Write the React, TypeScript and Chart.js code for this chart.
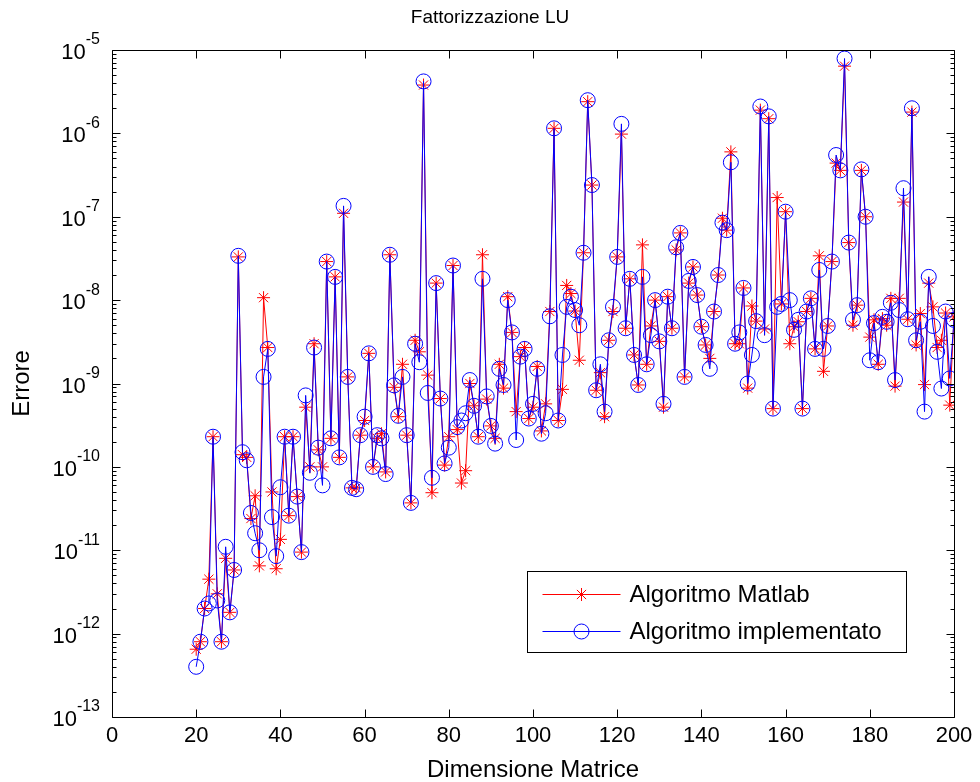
import React, { useEffect, useRef } from "react";
import { Chart, registerables } from "chart.js";

Chart.register(...registerables);

const DIMENSIONS = [
  20, 21, 22, 23, 24, 25, 26, 27, 28, 29,
  30, 31, 32, 33, 34, 35, 36, 37, 38, 39,
  40, 41, 42, 43, 44, 45, 46, 47, 48, 49,
  50, 51, 52, 53, 54, 55, 56, 57, 58, 59,
  60, 61, 62, 63, 64, 65, 66, 67, 68, 69,
  70, 71, 72, 73, 74, 75, 76, 77, 78, 79,
  80, 81, 82, 83, 84, 85, 86, 87, 88, 89,
  90, 91, 92, 93, 94, 95, 96, 97, 98, 99,
  100, 101, 102, 103, 104, 105, 106, 107, 108, 109,
  110, 111, 112, 113, 114, 115, 116, 117, 118, 119,
  120, 121, 122, 123, 124, 125, 126, 127, 128, 129,
  130, 131, 132, 133, 134, 135, 136, 137, 138, 139,
  140, 141, 142, 143, 144, 145, 146, 147, 148, 149,
  150, 151, 152, 153, 154, 155, 156, 157, 158, 159,
  160, 161, 162, 163, 164, 165, 166, 167, 168, 169,
  170, 171, 172, 173, 174, 175, 176, 177, 178, 179,
  180, 181, 182, 183, 184, 185, 186, 187, 188, 189,
  190, 191, 192, 193, 194, 195, 196, 197, 198, 199,
  200,
];

const ERR_MATLAB = [
  6.5e-13, 8e-13, 2e-12, 4.5e-12, 2.3e-10, 3e-12, 8e-13, 8e-12, 1.8e-12, 5.8e-12,
  3.3e-8, 1.4e-10, 1.3e-10, 2.4e-11, 4.5e-11, 6.5e-12, 1.07e-8, 2.7e-9, 5e-11, 6e-12,
  1.35e-11, 2.3e-10, 2.6e-11, 2.3e-10, 4.4e-11, 9.5e-12, 5.2e-10, 1e-10, 3e-9, 1.6e-10,
  1e-10, 2.9e-8, 2.2e-10, 1.9e-8, 1.3e-10, 1.1e-7, 1.2e-9, 5.6e-11, 5.6e-11, 2.4e-10,
  3.6e-10, 2.3e-9, 1e-10, 2.2e-10, 2.5e-10, 8.7e-11, 3.5e-8, 9e-10, 4e-10, 1.7e-9,
  2.4e-10, 3.7e-11, 3.3e-9, 2.4e-9, 3.8e-6, 1.26e-9, 4.9e-11, 1.6e-8, 6.6e-10, 1.05e-10,
  2.3e-10, 2.6e-8, 2.8e-10, 6.4e-11, 9e-11, 1e-9, 5.4e-10, 2.3e-10, 3.5e-8, 6.5e-10,
  3.1e-10, 2.2e-10, 1.7e-9, 8.8e-10, 1.1e-8, 4.1e-9, 4.6e-10, 2.1e-9, 2.7e-9, 3.8e-10,
  5.2e-10, 1.6e-9, 2.7e-10, 5.7e-10, 7.3e-9, 1.15e-6, 3.6e-10, 8.5e-10, 1.5e-8, 1.2e-8,
  7.4e-9, 1.9e-9, 3.7e-8, 2.4e-6, 2.4e-7, 8.3e-10, 1.35e-9, 4e-10, 3.3e-9, 7.3e-9,
  3.3e-8, 9.8e-7, 4.6e-9, 1.8e-8, 2.2e-9, 9.6e-10, 4.6e-8, 1.7e-9, 4.9e-9, 1e-8,
  3.2e-9, 5.2e-10, 1.1e-8, 4.6e-9, 4e-8, 6.4e-8, 1.2e-9, 1.6e-8, 2.5e-8, 1.15e-8,
  4.8e-9, 2.9e-9, 2e-9, 7.3e-9, 2e-8, 9.6e-8, 6.9e-8, 6e-7, 3e-9, 3e-9,
  1.4e-8, 8.8e-10, 8.5e-9, 5.6e-9, 1.9e-6, 4.5e-9, 1.5e-6, 5e-10, 1.7e-7, 9e-9,
  1.15e-7, 3e-9, 4.8e-9, 5.5e-9, 5e-10, 7.3e-9, 1.05e-8, 2.6e-9, 3.4e-8, 1.4e-9,
  4.9e-9, 2.9e-8, 4.4e-7, 3.6e-7, 6.4e-6, 4.9e-8, 5e-9, 8.7e-9, 3.6e-7, 1e-7,
  3.6e-9, 5.8e-9, 1.7e-9, 6e-9, 5e-9, 1.05e-8, 9.3e-10, 1.05e-8, 1.5e-7, 5.9e-9,
  1.8e-6, 2.9e-9, 6.9e-9, 9.7e-10, 1.6e-8, 8.3e-9, 2.7e-9, 3.3e-9, 7e-9, 5.5e-10,
  6.3e-9,
];

const ERR_IMPL = [
  4e-13, 8e-13, 2e-12, 2.3e-12, 2.3e-10, 2.5e-12, 8e-13, 1.1e-11, 1.8e-12, 5.8e-12,
  3.4e-8, 1.5e-10, 1.2e-10, 2.8e-11, 1.6e-11, 1e-11, 1.2e-9, 2.6e-9, 2.5e-11, 8.5e-12,
  5.7e-11, 2.3e-10, 2.6e-11, 2.3e-10, 4.4e-11, 9.5e-12, 7.2e-10, 8.5e-11, 2.7e-9, 1.7e-10,
  6e-11, 2.9e-8, 2.2e-10, 1.9e-8, 1.3e-10, 1.35e-7, 1.2e-9, 5.6e-11, 5.4e-11, 2.4e-10,
  4e-10, 2.3e-9, 1e-10, 2.4e-10, 2.2e-10, 8.2e-11, 3.5e-8, 9.5e-10, 4.1e-10, 1.2e-9,
  2.4e-10, 3.7e-11, 3e-9, 1.8e-9, 4.2e-6, 7.7e-10, 7.4e-11, 1.6e-8, 6.6e-10, 1.1e-10,
  1.7e-10, 2.6e-8, 3e-10, 3.6e-10, 4.4e-10, 1.1e-9, 5.4e-10, 2.3e-10, 1.8e-8, 7e-10,
  3.1e-10, 1.9e-10, 1.5e-9, 9.6e-10, 1e-8, 4.1e-9, 2.1e-10, 2.1e-9, 2.6e-9, 3.8e-10,
  5.7e-10, 1.5e-9, 2.5e-10, 4.4e-10, 6.4e-9, 1.15e-6, 3.6e-10, 2.2e-9, 8.3e-9, 1.1e-8,
  7.6e-9, 5e-9, 3.7e-8, 2.5e-6, 2.4e-7, 8.3e-10, 1.7e-9, 4.6e-10, 3.3e-9, 8.3e-9,
  3.3e-8, 1.3e-6, 4.6e-9, 1.8e-8, 2.2e-9, 9.6e-10, 1.9e-8, 1.7e-9, 3.8e-9, 1e-8,
  3.2e-9, 5.7e-10, 1.1e-8, 4.6e-9, 4.3e-8, 6.4e-8, 1.2e-9, 1.7e-8, 2.5e-8, 1.15e-8,
  4.8e-9, 2.9e-9, 1.5e-9, 7.3e-9, 2e-8, 8.5e-8, 6.9e-8, 4.5e-7, 3e-9, 4.1e-9,
  1.4e-8, 1e-9, 2.2e-9, 5.6e-9, 2.1e-6, 3.8e-9, 1.6e-6, 5e-10, 8.3e-9, 9e-9,
  1.15e-7, 1e-8, 4.4e-9, 5.8e-9, 5e-10, 7.3e-9, 1.05e-8, 2.6e-9, 2.3e-8, 2.6e-9,
  4.9e-9, 2.9e-8, 5.5e-7, 3.6e-7, 7.9e-6, 4.9e-8, 5.8e-9, 8.7e-9, 3.7e-7, 1e-7,
  1.9e-9, 5.3e-9, 1.8e-9, 6.3e-9, 5.5e-9, 9.3e-9, 1.1e-9, 7.6e-9, 2.2e-7, 5.9e-9,
  2e-6, 3.3e-9, 5.5e-9, 4.6e-10, 1.9e-8, 4.9e-9, 2.4e-9, 8.7e-10, 7.3e-9, 1.15e-9,
  5.8e-9,
];

const X_TICKS = [0, 20, 40, 60, 80, 100, 120, 140, 160, 180, 200];
const Y_TICKS = [1e-13, 1e-12, 1e-11, 1e-10, 1e-9, 1e-8, 1e-7, 1e-6, 1e-5];

const TITLE = "Fattorizzazione LU";
const X_LABEL = "Dimensione Matrice";
const Y_LABEL = "Errore";
const SERIES_LABELS = ["Algoritmo Matlab", "Algoritmo implementato"];
const SERIES_COLORS = ["#ff0000", "#0000ff"];

const FONT = "'Liberation Sans', Arial, Helvetica, sans-serif";

function drawStar(ctx: CanvasRenderingContext2D, x: number, y: number, r: number) {
  ctx.beginPath();
  ctx.moveTo(x - r, y);
  ctx.lineTo(x + r, y);
  ctx.moveTo(x, y - r);
  ctx.lineTo(x, y + r);
  const d = r * Math.SQRT1_2;
  ctx.moveTo(x - d, y - d);
  ctx.lineTo(x + d, y + d);
  ctx.moveTo(x - d, y + d);
  ctx.lineTo(x + d, y - d);
  ctx.stroke();
}

const matlabAxesPlugin = {
  id: "matlabAxes",
  afterDraw(chart: any) {
    const { ctx, chartArea: ca, scales } = chart;
    const xs = scales.x;
    const ys = scales.y;
    ctx.save();

    // title, centred on the figure
    ctx.fillStyle = "#000";
    ctx.font = `19px ${FONT}`;
    ctx.textAlign = "center";
    ctx.textBaseline = "middle";
    ctx.fillText(TITLE, chart.width / 2, ca.top - 32);

    ctx.strokeStyle = "#000";
    ctx.lineWidth = 1;
    const L = Math.round(ca.left) + 0.5;
    const R = Math.round(ca.right) + 0.5;
    const T = Math.round(ca.top) + 0.5;
    const B = Math.round(ca.bottom) + 0.5;
    ctx.beginPath();
    ctx.rect(L, T, R - L, B - T);
    ctx.stroke();

    // x ticks (inward, top and bottom)
    ctx.beginPath();
    for (const v of X_TICKS) {
      const px = Math.round(xs.getPixelForValue(v)) + 0.5;
      ctx.moveTo(px, B);
      ctx.lineTo(px, B - 8);
      ctx.moveTo(px, T);
      ctx.lineTo(px, T + 8);
    }
    // y ticks major + minor (inward, left and right)
    const kMin = Math.round(Math.log10(ys.min));
    const kMax = Math.round(Math.log10(ys.max));
    for (let k = kMin; k <= kMax; k++) {
      for (let m = 1; m <= 9; m++) {
        const v = m * Math.pow(10, k);
        if (v > ys.max * 1.0001) break;
        const py = Math.round(ys.getPixelForValue(v)) + 0.5;
        const len = m === 1 ? 8 : 4;
        ctx.moveTo(L, py);
        ctx.lineTo(L + len, py);
        ctx.moveTo(R, py);
        ctx.lineTo(R - len, py);
      }
    }
    ctx.stroke();

    // y tick labels 10^k
    ctx.fillStyle = "#000";
    ctx.textBaseline = "middle";
    const baseFont = `22px ${FONT}`;
    const expFont = `16px ${FONT}`;
    const rightEdge = ca.left - 12;
    for (const v of Y_TICKS) {
      const py = ys.getPixelForValue(v);
      const e = String(Math.round(Math.log10(v)));
      ctx.font = expFont;
      const ew = ctx.measureText(e).width;
      ctx.textAlign = "left";
      ctx.fillText(e, rightEdge - ew, py - 10);
      ctx.font = baseFont;
      ctx.textAlign = "right";
      ctx.fillText("10", rightEdge - ew, py + 3);
    }

    // legend
    const lw = 379;
    const lh = 81;
    const lx = Math.round(ca.right - 48 - lw) + 0.5;
    const ly = Math.round(ca.bottom - 65 - lh) + 0.5;
    ctx.fillStyle = "#fff";
    ctx.fillRect(lx, ly, lw, lh);
    ctx.strokeStyle = "#000";
    ctx.lineWidth = 1;
    ctx.strokeRect(lx, ly, lw, lh);
    const rows = [ly + 22, ly + 59];
    chart.data.datasets.forEach((ds: any, i: number) => {
      const yy = Math.round(rows[i]) + 0.5;
      ctx.strokeStyle = ds.borderColor;
      ctx.lineWidth = 1;
      ctx.beginPath();
      ctx.moveTo(lx + 15, yy);
      ctx.lineTo(lx + 93, yy);
      ctx.stroke();
      const mx = lx + 54;
      if (ds.pointStyle === "star") {
        drawStar(ctx, mx, yy, 6.5);
      } else {
        ctx.beginPath();
        ctx.arc(mx, yy, 7.5, 0, Math.PI * 2);
        ctx.stroke();
      }
      ctx.fillStyle = "#000";
      ctx.font = `24px ${FONT}`;
      ctx.textAlign = "left";
      ctx.textBaseline = "middle";
      ctx.fillText(ds.label, lx + 102, yy + 1);
    });
    ctx.restore();
  },
};

export default function App() {
  const canvasRef = useRef<HTMLCanvasElement | null>(null);

  useEffect(() => {
    if (!canvasRef.current) return;
    const chart = new Chart(canvasRef.current, {
      type: "line",
      data: {
        datasets: [
          {
            label: SERIES_LABELS[0],
            data: DIMENSIONS.map((d, i) => ({ x: d, y: ERR_MATLAB[i] })),
            borderColor: SERIES_COLORS[0],
            backgroundColor: SERIES_COLORS[0],
            borderWidth: 1,
            pointStyle: "star",
            pointRadius: 6.5,
            pointBorderWidth: 1,
            pointBorderColor: SERIES_COLORS[0],
            pointBackgroundColor: "rgba(0,0,0,0)",
            tension: 0,
            order: 2,
          },
          {
            label: SERIES_LABELS[1],
            data: DIMENSIONS.map((d, i) => ({ x: d, y: ERR_IMPL[i] })),
            borderColor: SERIES_COLORS[1],
            backgroundColor: SERIES_COLORS[1],
            borderWidth: 1,
            pointStyle: "circle",
            pointRadius: 7.5,
            pointBorderWidth: 1,
            pointBorderColor: SERIES_COLORS[1],
            pointBackgroundColor: "rgba(0,0,0,0)",
            tension: 0,
            order: 1,
          },
        ],
      },
      options: {
        animation: false,
        responsive: true,
        maintainAspectRatio: false,
        devicePixelRatio: 1,
        layout: { padding: { left: 0, right: 26, top: 50, bottom: 0 } },
        plugins: {
          legend: { display: false },
          tooltip: { enabled: false },
          title: { display: false },
        },
        scales: {
          x: {
            type: "linear",
            min: 0,
            max: 200,
            afterBuildTicks: (s: any) => {
              s.ticks = X_TICKS.map((v) => ({ value: v }));
            },
            afterFit: (s: any) => {
              s.height = 65;
            },
            ticks: {
              color: "#000",
              font: { family: FONT, size: 22 },
              padding: 6,
              maxRotation: 0,
              autoSkip: false,
            },
            grid: { display: false, drawTicks: false },
            border: { display: false },
            title: {
              display: true,
              text: X_LABEL,
              color: "#000",
              font: { family: FONT, size: 24, lineHeight: 1 },
              padding: { top: 0, bottom: 0 },
            },
          },
          y: {
            type: "logarithmic",
            min: 1e-13,
            max: 1e-5,
            afterFit: (s: any) => {
              s.width = 112;
            },
            ticks: { display: false },
            grid: { display: false, drawTicks: false },
            border: { display: false },
            title: {
              display: true,
              text: Y_LABEL,
              color: "#000",
              font: { family: FONT, size: 24, lineHeight: 1 },
              padding: { top: 10, bottom: 0 },
            },
          },
        },
      },
      plugins: [matlabAxesPlugin],
    } as any);
    return () => chart.destroy();
  }, []);

  return (
    <div style={{ position: "absolute", left: 0, top: 0, width: 980, height: 782, background: "#fff" }}>
      <canvas ref={canvasRef} />
    </div>
  );
}
